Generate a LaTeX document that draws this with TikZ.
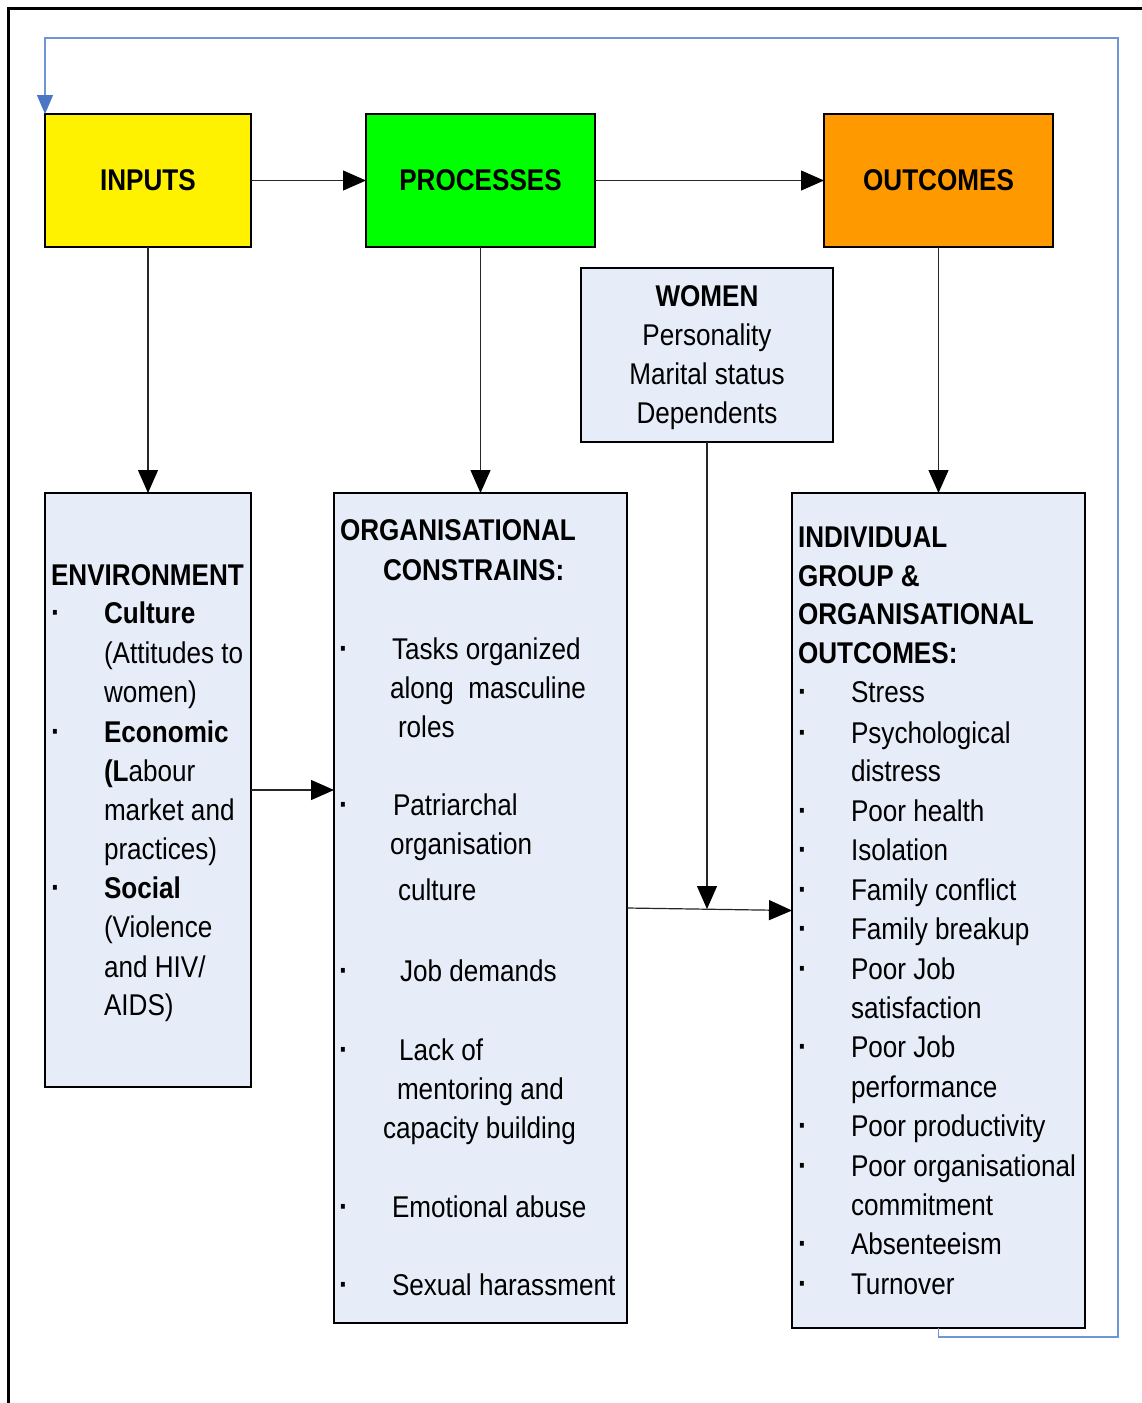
\documentclass[tikz,border=0pt]{standalone}
\usepackage{fontspec}
\setmainfont{Liberation Sans}[FakeStretch=0.87]
\usetikzlibrary{arrows.meta}
\definecolor{boxblue}{HTML}{E7EDF8}
\definecolor{fbblue}{HTML}{6F95D6}
\definecolor{fbhead}{HTML}{4A76C4}
\definecolor{gorange}{HTML}{FF9900}
\definecolor{ggreen}{HTML}{00FF00}
\begin{document}
\begin{tikzpicture}[x=1pt,y=-1pt,
  box/.style={draw=black, line width=1.2pt, inner sep=0pt, outer sep=0pt},
  lbox/.style={box, fill=boxblue},
  tfont/.style={font=\fontsize{30}{39}\selectfont},
  txt/.style={anchor=base west, inner sep=0pt, outer sep=0pt, tfont},
  btxt/.style={txt, font=\fontsize{30}{39}\selectfont\bfseries},
  bul/.style={txt, font=\fontsize{32}{39}\selectfont\bfseries},
  ctxt/.style={anchor=base, inner sep=0pt, outer sep=0pt, tfont},
  conn/.style={draw=black!85, line width=1.2pt},
  arr/.style={conn, -{Triangle[length=23pt,width=20pt,fill=black,color=black]}},
  fb/.style={draw=fbblue, line width=1.3pt, -{Triangle[length=19pt,width=16pt,fill=fbhead,color=fbhead]}}
]
\useasboundingbox (0,0) rectangle (1142,1403);
\fill[white] (0,0) rectangle (1142,1403);
% outer frame
\draw[line width=3pt] (8,1403) -- (8,8) -- (1142,8);

% top boxes
\node[box, fill=yellow, minimum width=206pt, minimum height=133pt, font=\fontsize{30}{39}\selectfont\bfseries] (inputs) at (148,180.5) {INPUTS};
\node[box, fill=ggreen, minimum width=229pt, minimum height=133pt, font=\fontsize{30}{39}\selectfont\bfseries] (processes) at (480.5,180.5) {PROCESSES};
\node[box, fill=gorange, minimum width=229pt, minimum height=133pt, font=\fontsize{30}{39}\selectfont\bfseries] (outcomes) at (938.5,180.5) {OUTCOMES};

% light boxes
\node[lbox, minimum width=252pt, minimum height=174pt] (women) at (707,355) {};
\node[lbox, minimum width=206pt, minimum height=594pt] (env) at (148,790) {};
\node[lbox, minimum width=293pt, minimum height=830pt] (org) at (480.5,908) {};
\node[lbox, minimum width=293pt, minimum height=835pt] (indiv) at (938.5,910.5) {};

% connectors
\draw[arr] (inputs.east) -- (processes.west);
\draw[arr] (processes.east) -- (outcomes.west);
\draw[arr] (inputs.south) -- (env.north);
\draw[arr] (processes.south) -- (org.north);
\draw[arr] (outcomes.south) -- (indiv.north);
\draw[arr] (env.east) -- (org.west |- env.east);
\coordinate (meet) at (707,909);
\draw[arr] (women.south) -- (meet);
\draw[arr] (org.east) -- (indiv.west);
\coordinate (fbR) at (1118,38);
\draw[fb] (indiv.south) -- ++(0,9) -| (fbR) -| (inputs.north west);

% women text
\node[ctxt, font=\fontsize{30}{39}\selectfont\bfseries] (w1) at (707,306) {WOMEN};
\node[ctxt] (w2) at (707,345) {Personality};
\node[ctxt] (w3) at (707,384) {Marital status};
\node[ctxt] (w4) at (707,423) {Dependents};

% environment text
\node[btxt] (e0) at (51,585) {ENVIRONMENT};
\node[bul] (eb1) at (51,623) {·};
\node[btxt] (e1) at (104,623) {Culture};
\node[txt] (e2) at (104,663) {(Attitudes to};
\node[txt] (e3) at (104,702) {women)};
\node[bul] (eb2) at (51,742) {·};
\node[btxt] (e4) at (104,742) {Economic};
\node[txt] (e5) at (104,781) {{\bfseries (L}abour};
\node[txt] (e6) at (104,820) {market and};
\node[txt] (e7) at (104,859) {practices)};
\node[bul] (eb3) at (51,898) {·};
\node[btxt] (e8) at (104,898) {Social};
\node[txt] (e9) at (104,937) {(Violence};
\node[txt] (e10) at (104,977) {and HIV/};
\node[txt] (e11) at (104,1015) {AIDS)};

% organisational text
\node[btxt] (o0) at (340,540) {ORGANISATIONAL};
\node[btxt] (o1) at (383,580) {CONSTRAINS:};
\node[bul] (ob1) at (339,659) {·};
\node[txt] (o2) at (392,659) {Tasks organized};
\node[txt] (o3) at (390,698) {along~~masculine};
\node[txt] (o4) at (398,737) {roles};
\node[bul] (ob2) at (339,815) {·};
\node[txt] (o5) at (393,815) {Patriarchal};
\node[txt] (o6) at (390,854) {organisation};
\node[txt] (o7) at (398,900) {culture};
\node[bul] (ob3) at (339,981) {·};
\node[txt] (o8) at (400,981) {Job demands};
\node[bul] (ob4) at (339,1060) {·};
\node[txt] (o9) at (399,1060) {Lack of};
\node[txt] (o10) at (397,1099) {mentoring and};
\node[txt] (o11) at (383,1138) {capacity building};
\node[bul] (ob5) at (339,1217) {·};
\node[txt] (o12) at (392,1217) {Emotional abuse};
\node[bul] (ob6) at (339,1295) {·};
\node[txt] (o13) at (392,1295) {Sexual harassment};

% outcomes text
\node[btxt] (i0) at (798,547) {INDIVIDUAL};
\node[btxt] (i1) at (798,586) {GROUP \&};
\node[btxt] (i2) at (798,624) {ORGANISATIONAL};
\node[btxt] (i3) at (798,663) {OUTCOMES:};
\foreach \yy/\tt/\bb [count=\k] in {702/Stress/1, 743/Psychological/1, 781/distress/0,
  821/Poor health/1, 860/Isolation/1, 900/Family conflict/1, 939/Family breakup/1,
  979/Poor Job/1, 1018/satisfaction/0, 1057/Poor Job/1, 1097/performance/0,
  1136/Poor productivity/1, 1176/Poor organisational/1, 1215/commitment/0,
  1254/Absenteeism/1, 1294/Turnover/1}{
  \node[txt] (it\k) at (851,\yy) {\tt};
  \ifnum\bb=1 \node[bul] (ib\k) at (798,\yy) {·};\fi
}
\end{tikzpicture}
\end{document}
